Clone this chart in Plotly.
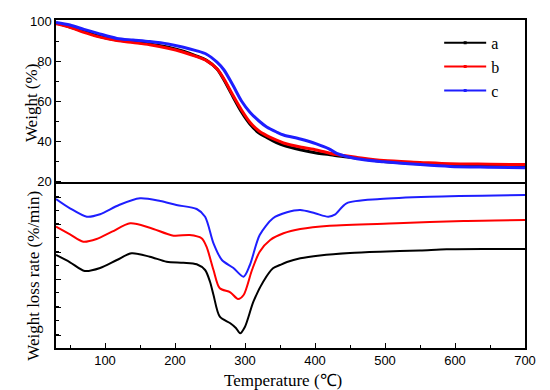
import plotly.graph_objects as go

# ---------- TGA data (Weight %) ----------
tga_temp = [30, 50, 70, 90, 117, 140, 164, 190, 212, 230, 245, 260, 270, 283, 295,
            307, 320, 331, 345, 355, 379, 402, 420, 431, 460, 498, 550, 593, 650, 700]
tga_a = [99.0, 97.0, 94.8, 92.5, 90.5, 89.6, 88.5, 86.9, 84.9, 82.6, 80.3, 76.0, 70.5, 62.0, 54.5,
         48.5, 44.0, 41.8, 39.2, 37.8, 35.6, 34.0, 33.2, 32.6, 31.4, 29.8, 28.6, 27.9, 27.5, 27.2]
tga_b = [98.6, 96.8, 94.3, 92.2, 90.2, 89.2, 88.1, 86.4, 84.4, 82.3, 80.2, 76.1, 71.0, 62.7, 55.5,
         49.4, 45.0, 42.7, 40.4, 39.0, 37.0, 35.5, 34.0, 33.2, 31.8, 30.2, 29.3, 28.6, 28.4, 28.2]
tga_c = [99.3, 98.0, 95.8, 93.8, 91.3, 90.5, 89.7, 88.5, 86.9, 85.2, 83.4, 79.4, 75.5, 67.7, 60.0,
         54.4, 50.0, 47.0, 44.5, 43.0, 41.0, 38.6, 36.1, 33.8, 31.1, 29.6, 28.2, 27.3, 26.9, 26.6]

# ---------- DTG data (weight loss rate, arbitrary offset units) ----------
dtg_a_temp = [30, 50, 71, 93, 117, 138, 164, 188, 212, 231, 243, 250, 255, 264, 279, 287, 293,
              300, 312, 326, 340, 350, 360, 379, 407, 450, 493, 550, 588, 650, 700]
dtg_a = [93, 85.7, 77, 80, 88, 94.7, 91.3, 86.3, 85.3, 83.7, 78, 66.3, 53, 31.3, 24.7, 20, 14.7,
         21.3, 46.3, 66.3, 79.7, 83, 86, 89.7, 92.5, 95, 96.3, 97.5, 98.7, 99, 99]

dtg_b_temp = [30, 50, 69, 88, 110, 136, 164, 198, 221, 238, 245, 255, 264, 279, 290, 298,
              310, 321, 336, 355, 379, 421, 517, 612, 700]
dtg_b = [121.3, 113.7, 106.3, 109, 116.3, 124.7, 120.3, 112.3, 113, 109.7, 101.3, 78, 59.7, 55.7, 49, 53,
         78, 96.3, 108, 114.7, 119, 122.3, 124.7, 127, 128]

dtg_c_temp = [30, 50, 74, 93, 120, 150, 179, 202, 231, 243, 255, 267, 283, 298, 307, 321, 340,
              360, 379, 400, 419, 429, 445, 493, 564, 700]
dtg_c = [149, 139.7, 131.3, 133.7, 143, 149.7, 147, 143, 139, 131.3, 104.7, 88, 80.3, 71.3, 83, 113, 129.7,
         135.7, 138, 134.7, 131.3, 133.7, 144.7, 149, 151.3, 153]

labels = ["a", "b", "c"]
colors = ["#000000", "#ff0000", "#1e1eff"]

fig = go.Figure()

for temps, vals, col in [(tga_temp, tga_a, colors[0]), (tga_temp, tga_b, colors[1]), (tga_temp, tga_c, colors[2])]:
    fig.add_trace(go.Scatter(x=temps, y=vals, mode="lines", xaxis="x2", yaxis="y2",
                             line=dict(color=col, width=3, shape="spline", smoothing=0.8),
                             showlegend=False, hoverinfo="skip"))

for temps, vals, col in [(dtg_a_temp, dtg_a, colors[0]), (dtg_b_temp, dtg_b, colors[1]), (dtg_c_temp, dtg_c, colors[2])]:
    fig.add_trace(go.Scatter(x=temps, y=vals, mode="lines", xaxis="x", yaxis="y",
                             line=dict(color=col, width=2, shape="spline", smoothing=0.8),
                             showlegend=False, hoverinfo="skip"))

# legend entries
for lab, col in zip(labels, colors):
    fig.add_trace(go.Scatter(x=[None], y=[None], mode="lines+markers", name=lab, xaxis="x2", yaxis="y2",
                             line=dict(color=col, width=2), marker=dict(color=col, size=3, symbol="square")))

axis_common = dict(showline=True, linecolor="black", linewidth=1.5, mirror=True,
                   showgrid=False, zeroline=False, ticks="inside", tickcolor="black",
                   tickfont=dict(family="Liberation Sans, Arial", size=13, color="black"))

serif = dict(family="Liberation Serif, Times New Roman", size=17, color="black")

fig.update_layout(
    width=550, height=390,
    margin=dict(l=56, r=25, t=20, b=42),
    paper_bgcolor="white", plot_bgcolor="white",
    xaxis=dict(domain=[0, 1], anchor="y", range=[30, 700], tick0=0, dtick=100, ticklen=5,
               minor=dict(ticks="inside", dtick=50, ticklen=3, tickcolor="black"), **axis_common),
    yaxis=dict(domain=[0, 0.5], anchor="x", range=[0, 164], tick0=13, dtick=27.6, ticklen=5,
               showticklabels=False,
               minor=dict(ticks="inside", dtick=13.8, ticklen=3, tickcolor="black"), **axis_common),
    xaxis2=dict(domain=[0, 1], anchor="y2", side="top", range=[30, 700], showticklabels=False,
                showline=True, linecolor="black", linewidth=1.5, mirror=False, showgrid=False,
                zeroline=False, ticks=""),
    yaxis2=dict(domain=[0.5, 1], anchor="x2", range=[18.5, 100.5], tick0=0, dtick=20, ticklen=5,
                minor=dict(ticks="inside", dtick=10, ticklen=3, tickcolor="black"), **axis_common),
    legend=dict(x=0.817, y=0.982, xanchor="left", yanchor="top", bgcolor="rgba(0,0,0,0)",
                font=dict(family="Liberation Serif, Times New Roman", size=16, color="black"),
                itemwidth=42),
    annotations=[
        dict(text="Weight (%)", xref="paper", yref="paper", x=-0.051, y=0.747, textangle=-90,
             xanchor="center", yanchor="middle", showarrow=False, font=serif),
        dict(text="Weight loss rate (%/min)", xref="paper", yref="paper", x=-0.047, y=0.22, textangle=-90,
             xanchor="center", yanchor="middle", showarrow=False, font=serif),
        dict(text="Temperature (℃)", xref="paper", yref="paper", x=0.484, y=-0.098,
             xanchor="center", yanchor="middle", showarrow=False, font=serif),
    ],
)

fig.write_html("out.html", config={"displayModeBar": False},
               post_script="document.body.style.margin='0';")
